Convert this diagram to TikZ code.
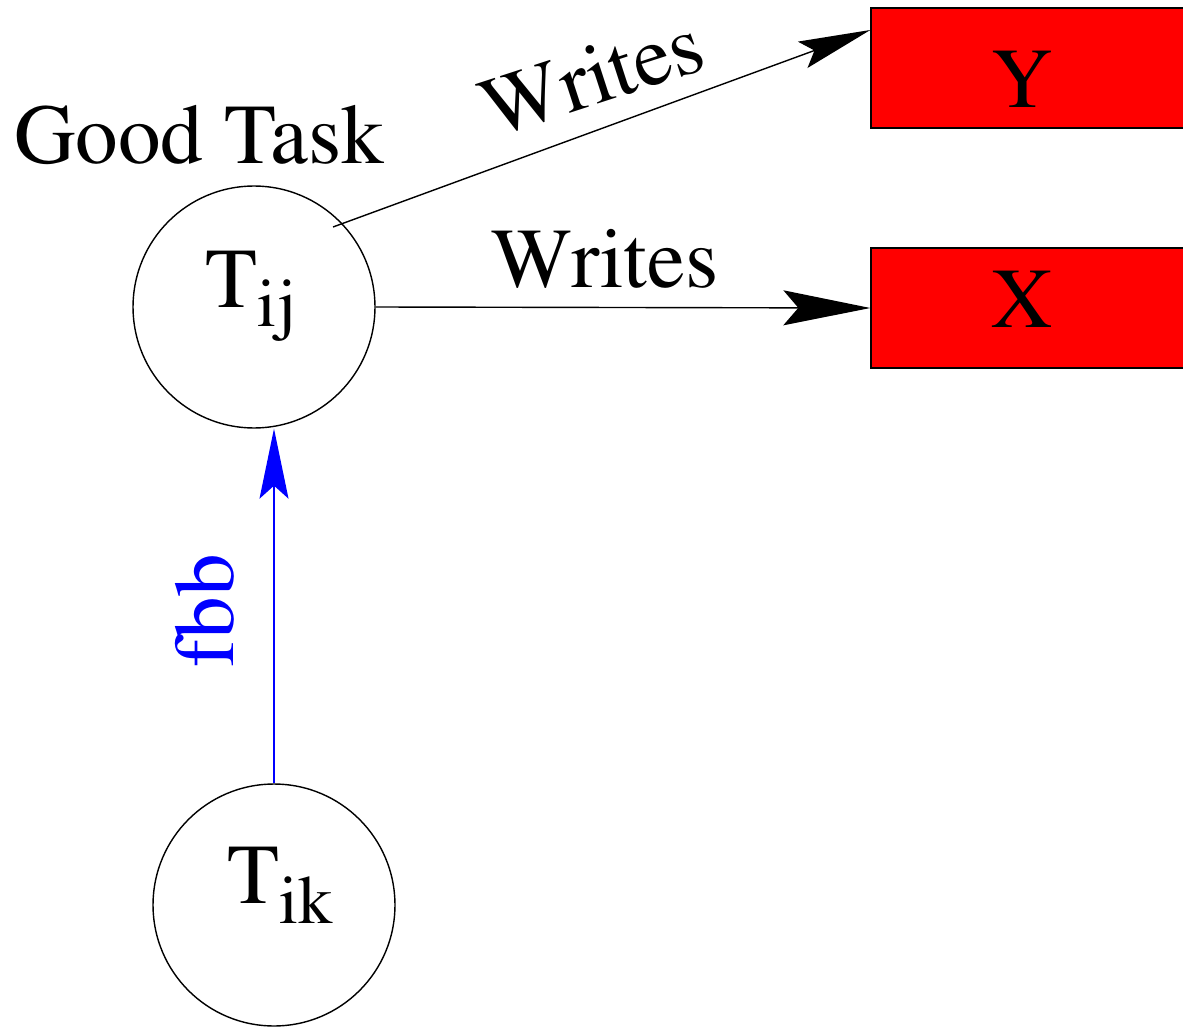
\documentclass[tikz,border=0pt]{standalone}
\usepackage[T1]{fontenc}
\usepackage{times}
\usetikzlibrary{arrows.meta,calc}
\begin{document}
\begin{tikzpicture}[x=0.02cm,y=-0.02cm,
  txt/.style={font=\rmfamily\fontsize{48.5}{52}\selectfont, inner sep=0pt},
  task/.style={circle, draw, line width=0.8pt, minimum size=4.84cm, inner sep=0pt},
  store/.style={rectangle, draw, fill=red, line width=0.8pt, minimum width=6.4cm, minimum height=2.4cm, inner sep=0pt},
  wrx/.style={line width=0.8pt, -{Stealth[length=1.74cm,width=0.7cm,inset=0.3cm]}},
  wry/.style={line width=0.8pt, -{Stealth[length=1.44cm,width=0.56cm,inset=0.25cm]}},
  fbbarrow/.style={blue, line width=0.8pt, -{Stealth[length=1.4cm,width=0.58cm,inset=0.26cm]}}
]
\useasboundingbox (0,0) rectangle (1183,1027);
\newcommand{\subtext}[1]{\raisebox{-0.4cm}{\fontsize{39}{39}\selectfont #1}}

\node[task] (tij) at (254,307) {};
\node[task] (tik) at (274,905) {};
\node[store] (y) at (1031,68) {};
\node[store] (x) at (1031,308) {};

\node[txt, anchor=base] (tijlab) at (251,307) {T\subtext{ij}};
\node[txt, anchor=base] (tiklab) at (280,903) {T\subtext{ik}};
\node[txt, anchor=base] (ylab) at (1022,108) {Y};
\node[txt, anchor=base] (xlab) at (1022,327) {X};
\node[txt, anchor=base] (good) at (199,164) {Good Task};

\coordinate (ys) at (333,227);
\coordinate (yt) at ($(y.west)+(0,-38)$);

\draw[wrx] (tij.east) -- (x.west);
\draw[wry] (ys) -- (yt);
\draw[fbbarrow] (tik.north) -- (tik.north |- tij.south);

\node[txt, anchor=base] (w1) at (605,287) {Writes};
\node[txt, rotate=18] (w2) at (592,76) {Writes};
\node[txt, text=blue, rotate=90, anchor=base] (fbb) at (233,611) {fbb};
\end{tikzpicture}
\end{document}
